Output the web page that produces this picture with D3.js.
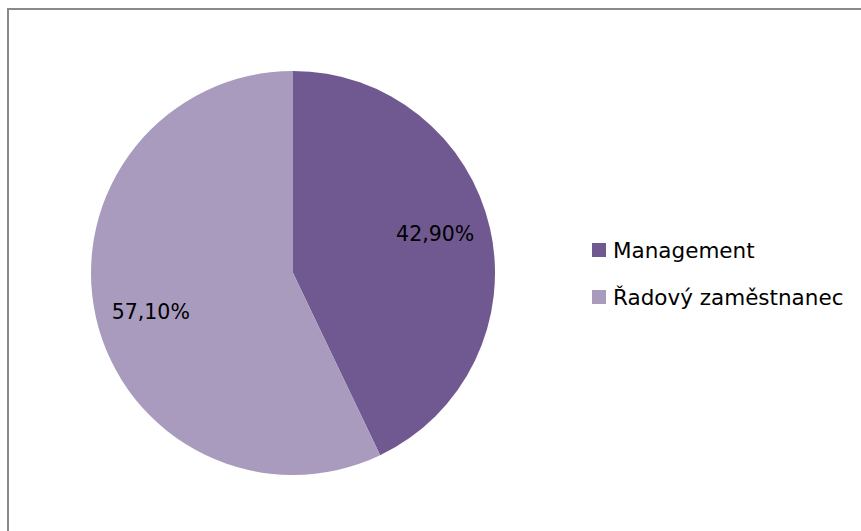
<!DOCTYPE html>
<html>
<head>
<meta charset="utf-8">
<script src="https://cdn.jsdelivr.net/npm/d3@7"></script>
<style>
  html, body { margin: 0; padding: 0; background: #fff; }
  svg text { font-family: "DejaVu Sans", sans-serif; fill: #000; }
</style>
</head>
<body>
<svg id="chart" width="861" height="531"></svg>
<script>
// data
var categories = ["Management", "Řadový zaměstnanec"];
var values = [42.9, 57.1];
var labels = ["42,90%", "57,10%"];
var colors = ["#705990", "#a99bbe"];

var svg = d3.select("#chart");

// outer frame (only top/left visible in the picture)
svg.append("rect")
    .attr("x", 8).attr("y", 9)
    .attr("width", 900).attr("height", 600)
    .attr("fill", "none")
    .attr("stroke", "#8a8a8a")
    .attr("stroke-width", 2);

var cx = 293, cy = 273, r = 202;

var pie = d3.pie().sort(null).value(function(d) { return d; });
var arcs = pie(values);
var arc = d3.arc().innerRadius(0).outerRadius(r);

var g = svg.append("g").attr("transform", "translate(" + cx + "," + cy + ")");

g.selectAll("path.slice")
    .data(arcs)
    .enter().append("path")
    .attr("class", "slice")
    .attr("d", arc)
    .attr("fill", function(d, i) { return colors[i]; });

// labels sit a bit counter-clockwise of the slice middle, like excel does
function labelPos(d) {
    var a = (d.startAngle + d.endAngle) / 2 - 0.045;
    var lr = r * 0.73;
    return [lr * Math.sin(a), -lr * Math.cos(a)];
}

g.selectAll("text.lbl")
    .data(arcs)
    .enter().append("text")
    .attr("class", "lbl")
    .attr("transform", function(d) { return "translate(" + labelPos(d) + ")"; })
    .attr("text-anchor", "middle")
    .attr("dy", "0.36em")
    .style("font-size", "20.5px")
    .text(function(d, i) { return labels[i]; });

// legend
var legend = svg.append("g").attr("transform", "translate(592,243)");
var item = legend.selectAll("g")
    .data(categories)
    .enter().append("g")
    .attr("transform", function(d, i) { return "translate(0," + (i * 47) + ")"; });

item.append("rect")
    .attr("width", 14).attr("height", 14)
    .attr("fill", function(d, i) { return colors[i]; });

item.append("text")
    .attr("x", 21).attr("y", 7)
    .attr("dy", "0.36em")
    .style("font-size", "21.5px")
    .text(function(d) { return d; });
</script>
</body>
</html>
